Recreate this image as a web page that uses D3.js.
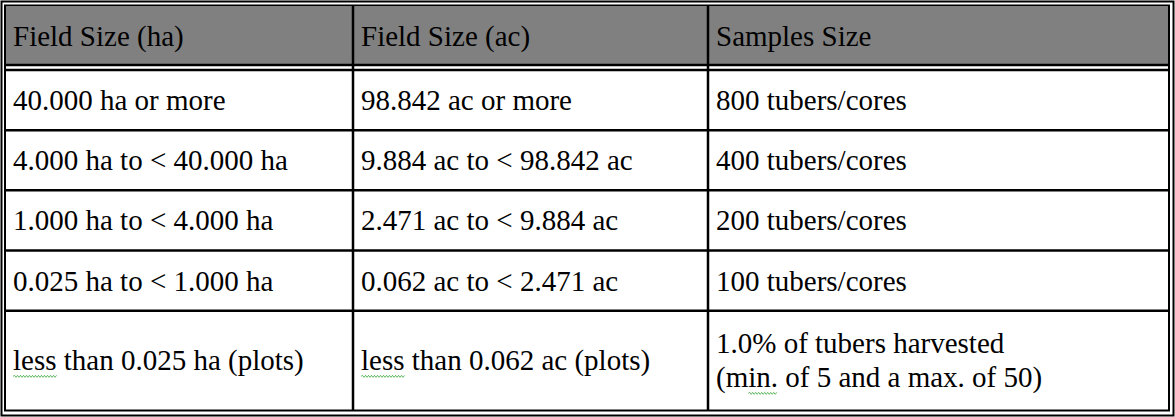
<!DOCTYPE html>
<html><head><meta charset="utf-8">
<script src="https://cdn.jsdelivr.net/npm/d3@7"></script>
<style>body{margin:0;background:#fff}svg{display:block}</style>
</head><body>
<script>
const headers = ["Field Size (ha)", "Field Size (ac)", "Samples Size"];
const colHa = ["40.000 ha or more","4.000 ha to < 40.000 ha","1.000 ha to < 4.000 ha","0.025 ha to < 1.000 ha","less than 0.025 ha (plots)"];
const colAc = ["98.842 ac or more","9.884 ac to < 98.842 ac","2.471 ac to < 9.884 ac","0.062 ac to < 2.471 ac","less than 0.062 ac (plots)"];
const colSample = ["800 tubers/cores","400 tubers/cores","200 tubers/cores","100 tubers/cores","1.0% of tubers harvested\n(min. of 5 and a max. of 50)"];
const rowUnits = [1,1,1,1,1.65];

const W=1175,H=417;
const svg=d3.select("body").append("svg").attr("width",W).attr("height",H);
const font="'Liberation Serif','Times New Roman',serif";
const x=d3.scaleLinear().domain([0,3]).range([5,1169]);
const colX=[5,353,708,1169];
// row layout
const cum=[0];rowUnits.forEach(u=>cum.push(cum[cum.length-1]+u));
const y=d3.scaleLinear().domain([0,cum[cum.length-1]]).range([70,410]);

// outer double border
svg.append("rect").attr("x",1.5).attr("y",1.5).attr("width",W-3).attr("height",H-3).attr("fill","none").attr("stroke","#000").attr("stroke-width",2);
svg.append("rect").attr("x",5).attr("y",5.5).attr("width",1164).attr("height",405).attr("fill","none").attr("stroke","#000").attr("stroke-width",2);

// header
svg.append("rect").attr("x",6).attr("y",6.5).attr("width",1162).attr("height",58).attr("fill","#808080");
svg.append("line").attr("x1",5).attr("x2",1169).attr("y1",65).attr("y2",65).attr("stroke","#000").attr("stroke-width",2.5);
svg.append("line").attr("x1",5).attr("x2",1169).attr("y1",70).attr("y2",70).attr("stroke","#000").attr("stroke-width",2.5);
[1,2].forEach(i=>svg.append("line").attr("x1",colX[i]).attr("x2",colX[i]).attr("y1",5).attr("y2",410).attr("stroke","#000").attr("stroke-width",2.5));
headers.forEach((h,i)=>svg.append("text").attr("x",colX[i]+8).attr("y",46).attr("font-family",font).attr("font-size",29).text(h));

// body rows
for(let r=1;r<rowUnits.length;r++)
  svg.append("line").attr("x1",5).attr("x2",1169).attr("y1",y(cum[r])).attr("y2",y(cum[r])).attr("stroke","#000").attr("stroke-width",2.5);

const cols=[colHa,colAc,colSample];
function squiggle(x0,x1,yy){let p=`M${x0},${yy}`;let up=true;for(let xx=x0+1.5;xx<=x1;xx+=1.5){p+=`L${xx},${yy+(up?-1:1)}`;up=!up;}
  svg.append("path").attr("d",p).attr("fill","none").attr("stroke","#3aa63a").attr("stroke-width",0.8);}
cols.forEach((col,c)=>{
  col.forEach((t,r)=>{
    const lines=t.split("\n");
    const mid=(y(cum[r])+y(cum[r+1]))/2;
    const lh=34;
    lines.forEach((ln,k)=>{
      const by=mid+10+(k-(lines.length-1)/2)*lh;
      const tx=svg.append("text").attr("x",colX[c]+8).attr("y",by).attr("font-family",font).attr("font-size",29).text(ln);
      const words=[["less",0]];
      const idx=ln.indexOf("less ")===0?0:-1;
      if(idx===0){const w=tx.node().getSubStringLength(0,4);squiggle(colX[c]+8,colX[c]+8+w,by+6);}
      const mi=ln.indexOf("min.");
      if(mi>=0){const s=tx.node().getSubStringLength(0,mi+1);const w=tx.node().getSubStringLength(mi+1,3);squiggle(colX[c]+8+s,colX[c]+8+s+w,by+6);}
    });
  });
});
</script>
</body></html>
